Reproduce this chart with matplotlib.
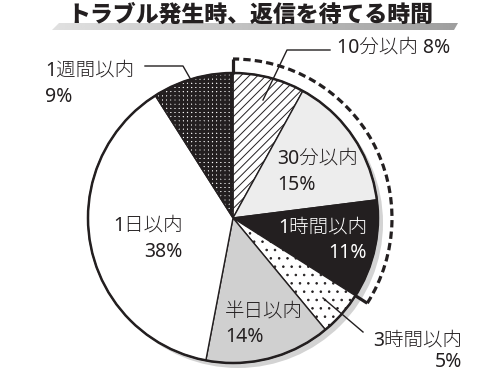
import matplotlib
matplotlib.use("Agg")
import matplotlib.pyplot as plt
import numpy as np
from matplotlib.patches import Arc, Circle, Polygon

plt.rcParams['font.family'] = ['Noto Sans CJK JP', 'DejaVu Sans']

title = "トラブル発生時、返信を待てる時間"
categories = ["10分以内", "30分以内", "1時間以内", "3時間以内", "半日以内", "1日以内", "1週間以内"]
values = [8, 15, 11, 5, 14, 38, 9]
pct_labels = ["8%", "15%", "11%", "5%", "14%", "38%", "9%"]
highlight_n = 3  # first three slices are enclosed by the dashed arc

colors = ["white", "#ededed", "#231f20", "white", "#d0d0d0", "white", "white"]
hatches = ["////", "", "", "..", "", "", "++++"]
hatch_lw = [0.7, 1, 1, 0.6, 1, 1, 2.1]
txt = "#231f20"

W, H = 500, 375
fig = plt.figure(figsize=(5, 3.75), dpi=100)
ax = fig.add_axes([0, 0, 1, 1])

def Y(y):
    return H - y

cx, cy, R = 233, Y(218), 145

# shadow
ax.add_patch(Circle((cx + 5, cy - 5), R, facecolor="#d3d3d3", edgecolor="none", zorder=0))

wedges, _ = ax.pie(values, startangle=90, counterclock=False, radius=R, center=(cx, cy),
                   colors=colors, hatch=hatches,
                   wedgeprops=dict(edgecolor=txt, linewidth=1.0))
for w, lw in zip(wedges, hatch_lw):
    w.set_zorder(2)
    if hasattr(w, "set_hatch_linewidth"):
        w.set_hatch_linewidth(lw)

# outer outline
ax.add_patch(Circle((cx, cy), R, facecolor="none", edgecolor=txt, linewidth=1.8, zorder=3))

# dashed highlight arc
r2 = 159
a_start = 90
a_end = 90 - 360 * sum(values[:highlight_n]) / sum(values)
ax.add_patch(Arc((cx, cy), 2 * r2, 2 * r2, theta1=a_end, theta2=a_start,
                 edgecolor=txt, linewidth=2.3, linestyle=(0, (2.3, 1.3)), zorder=4))
for a in (a_start, a_end):
    t = np.deg2rad(a)
    ax.plot([cx + R * np.cos(t), cx + r2 * np.cos(t)],
            [cy + R * np.sin(t), cy + r2 * np.sin(t)],
            color=txt, linewidth=2.3, zorder=4, solid_capstyle="butt")

# title bar with gradient
bar = Polygon([(52, Y(30)), (59, Y(23)), (458, Y(23)), (454, Y(30))], closed=True,
              facecolor="none", edgecolor="none")
ax.add_patch(bar)
grad = np.linspace(0.88, 0.62, 256).reshape(1, -1)
im = ax.imshow(grad, extent=(52, 458, Y(30), Y(23)), cmap="gray", vmin=0, vmax=1,
               aspect="auto", zorder=1)
im.set_clip_path(bar)

ax.text(250, Y(15), title, ha="center", va="center", fontsize=16.5, fontweight="black",
        color=txt, zorder=5)

fs = 14
def lab(x, y, s, ha="left", color=txt):
    ax.text(x, Y(y), s, ha=ha, va="center", fontsize=fs, color=color, zorder=6,
            family=['Noto Sans', 'Noto Sans CJK JP'], fontweight="light")

# 10分以内
lab(337, 47, categories[0] + " " + pct_labels[0])
ax.plot([330, 287, 263], [Y(50), Y(50), Y(100)], color=txt, linewidth=1.0, zorder=6)
# 30分以内
lab(277, 158, categories[1]); lab(277, 185, pct_labels[1])
# 1時間以内
lab(367, 227, categories[2], ha="right", color="white"); lab(367, 253, pct_labels[2], ha="right", color="white")
# 3時間以内
lab(462, 340, categories[3], ha="right"); lab(462, 362, pct_labels[3], ha="right")
ax.plot([323, 363], [Y(298), Y(332)], color=txt, linewidth=1.0, zorder=6)
# 半日以内
lab(225, 312, categories[4]); lab(225, 337, pct_labels[4])
# 1日以内
lab(183, 225, categories[5], ha="right"); lab(183, 252, pct_labels[5], ha="right")
# 1週間以内
lab(45, 70, categories[6]); lab(45, 97, pct_labels[6])
ax.plot([145, 183, 191], [Y(66), Y(66), Y(80)], color=txt, linewidth=1.0, zorder=6)

ax.set_xlim(0, W)
ax.set_ylim(0, H)
ax.set_aspect("auto")
ax.axis("off")
fig.savefig("out.png", dpi=100)
